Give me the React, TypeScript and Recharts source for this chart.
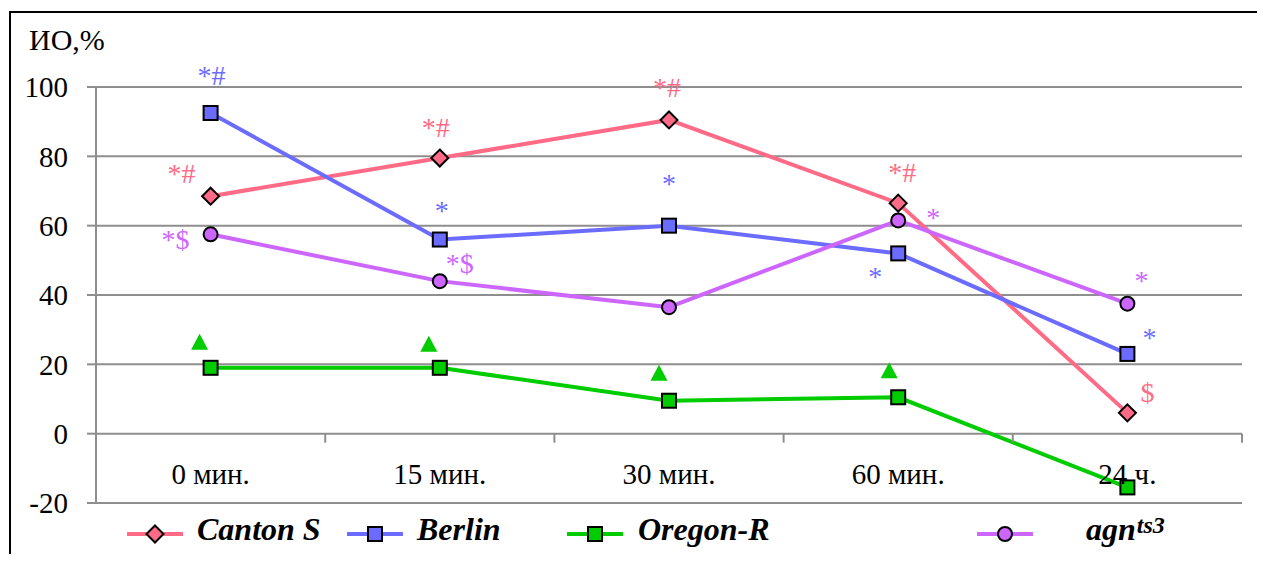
import React from "react";
import { LineChart, Line, XAxis, YAxis, CartesianGrid, LabelList } from "recharts";

const categories = ["0 мин.", "15 мин.", "30 мин.", "60 мин.", "24 ч."];
const cantonS = [68.5, 79.5, 90.5, 66.5, 6];
const berlin = [92.5, 56, 60, 52, 23];
const oregonR = [19, 19, 9.5, 10.5, -15.5];
const agnTs3 = [57.5, 44, 36.5, 61.5, 37.5];
const yTicks = [-20, 0, 20, 40, 60, 80, 100];

// significance marks shown next to points
const cantonNotes = ["*#", "*#", "*#", "*#", "$"];
const berlinNotes = ["*#", "*", "*", "*", "*"];
const oregonNotes = ["▲", "▲", "▲", "▲", ""];
const agnNotes = ["*$", "*$", "", "*", "*"];

// where each mark sits relative to its point (px)
const cantonNoteOffsets = [[-29, -23], [-4, -31], [-2, -32], [4, -31], [20, -20]];
const berlinNoteOffsets = [[1, -38], [2, -29], [0, -42], [-23, 23], [22, -16]];
const oregonNoteOffsets = [[-11, -26], [-11, -24], [-10, -28], [-9, -27], [0, 0]];
const agnNoteOffsets = [[-35, 5], [20, -18], [0, 0], [35, -3], [14, -23]];

const W = 1265;
const H = 562;
const PLOT_LEFT = 96;
const PLOT_RIGHT = 1242;
const PLOT_TOP = 87;
const PLOT_BOTTOM = 503;
const Y_MIN = -20;
const Y_MAX = 100;
const Y_AXIS_W = 80;
const X_AXIS_H = 30;
const BAND_HALF = (PLOT_RIGHT - PLOT_LEFT) / categories.length / 2;
const ZERO_FROM_BOTTOM = ((PLOT_BOTTOM - PLOT_TOP) * (0 - Y_MIN)) / (Y_MAX - Y_MIN);

const SERIF = "Liberation Serif";
const GRID = "#8e8e8e";

const PINK = "#ff6b86";
const BLUE = "#6b6bff";
const GREEN = "#00cc00";
const VIOLET = "#cc66ff";

const data = categories.map((cat, i) => ({
  cat,
  canton: cantonS[i],
  berlin: berlin[i],
  oregon: oregonR[i],
  agn: agnTs3[i],
  cantonNote: cantonNotes[i],
  berlinNote: berlinNotes[i],
  oregonNote: oregonNotes[i],
  agnNote: agnNotes[i],
}));

type Shape = "diamond" | "square" | "circle";

function marker(shape: Shape, cx: number, cy: number, fill: string, key?: any) {
  if (shape === "diamond") {
    const r = 8.5;
    return (
      <polygon
        key={key}
        points={`${cx},${cy - r} ${cx + r},${cy} ${cx},${cy + r} ${cx - r},${cy}`}
        fill={fill}
        stroke="#000"
        strokeWidth={2}
      />
    );
  }
  if (shape === "square") {
    return (
      <rect key={key} x={cx - 7} y={cy - 7} width={14} height={14} fill={fill} stroke="#000" strokeWidth={2} />
    );
  }
  return <circle key={key} cx={cx} cy={cy} r={7} fill={fill} stroke="#000" strokeWidth={2} />;
}

const makeDot = (shape: Shape, fill: string) => (props: any) => {
  const { cx, cy, index } = props;
  if (cx == null || cy == null) return <g key={index} />;
  return marker(shape, cx, cy, fill, index);
};

const makeNote = (color: string, offsets: number[][]) => (props: any) => {
  const { x, y, value, index } = props;
  if (!value || x == null || y == null) return null;
  const [dx, dy] = offsets[index] || [0, 0];
  if (value === "▲") {
    const cx = x + dx;
    const cy = y + dy;
    return (
      <polygon
        points={`${cx},${cy - 8} ${cx + 8.5},${cy + 8} ${cx - 8.5},${cy + 8}`}
        fill={color}
      />
    );
  }
  return (
    <text
      x={x + dx}
      y={y + dy}
      textAnchor="middle"
      dominantBaseline="central"
      fill={color}
      style={{ fontSize: 28, fontFamily: SERIF }}
    >
      {value}
    </text>
  );
};

const CategoryTick = (props: any) => {
  const { x, y, payload } = props;
  const zeroY = y - ZERO_FROM_BOTTOM;
  return (
    <g>
      <line x1={x + BAND_HALF} x2={x + BAND_HALF} y1={zeroY} y2={zeroY + 9} stroke={GRID} strokeWidth={2} />
      <text x={x} y={y - 19} textAnchor="middle" fill="#000" style={{ fontSize: 29, fontFamily: SERIF }}>
        {payload.value}
      </text>
    </g>
  );
};

const legendItems = [
  { name: "Canton S", color: PINK, shape: "diamond" as Shape, lineX: 128, textX: 197 },
  { name: "Berlin", color: BLUE, shape: "square" as Shape, lineX: 348, textX: 417 },
  { name: "Oregon-R", color: GREEN, shape: "square" as Shape, lineX: 568, textX: 638 },
  { name: "agn", sup: "ts3", color: VIOLET, shape: "circle" as Shape, lineX: 978, textX: 1086 },
];

export default function App() {
  return (
    <div
      style={{
        position: "relative",
        width: W,
        height: H,
        margin: -8,
        background: "#fff",
        overflow: "hidden",
        fontFamily: SERIF,
      }}
    >
      <div
        style={{
          position: "absolute",
          left: 9,
          top: 11,
          right: 0,
          bottom: 0,
          borderTop: "2px solid #000",
          borderLeft: "2px solid #000",
        }}
      />
      <div
        style={{
          position: "absolute",
          left: 29,
          top: 25,
          fontSize: 30,
          lineHeight: "30px",
          color: "#000",
          fontFamily: SERIF,
        }}
      >
        ИО,%
      </div>
      <div style={{ position: "absolute", left: 0, top: 0 }}>
        <LineChart
          width={W}
          height={H}
          data={data}
          style={{ fontFamily: SERIF }}
          margin={{
            top: PLOT_TOP,
            right: W - PLOT_RIGHT,
            bottom: H - PLOT_BOTTOM - X_AXIS_H,
            left: PLOT_LEFT - Y_AXIS_W,
          }}
        >
          <CartesianGrid vertical={false} stroke={GRID} strokeWidth={2} />
          <XAxis
            dataKey="cat"
            height={X_AXIS_H}
            axisLine={false}
            tickLine={false}
            tickSize={0}
            tickMargin={0}
            padding={{ left: BAND_HALF, right: BAND_HALF }}
            tick={<CategoryTick />}
            interval={0}
          />
          <YAxis
            width={Y_AXIS_W}
            domain={[Y_MIN, Y_MAX]}
            ticks={yTicks}
            interval={0}
            axisLine={{ stroke: GRID, strokeWidth: 2 }}
            tickLine={{ stroke: GRID, strokeWidth: 2 }}
            tickSize={9}
            tickMargin={19}
            tick={{ fill: "#000", fontSize: 29, fontFamily: SERIF }}
          />
          <Line
            dataKey="canton"
            stroke={PINK}
            strokeWidth={4}
            dot={makeDot("diamond", PINK)}
            activeDot={false}
            isAnimationActive={false}
          >
            <LabelList dataKey="cantonNote" content={makeNote(PINK, cantonNoteOffsets)} />
          </Line>
          <Line
            dataKey="berlin"
            stroke={BLUE}
            strokeWidth={4}
            dot={makeDot("square", BLUE)}
            activeDot={false}
            isAnimationActive={false}
          >
            <LabelList dataKey="berlinNote" content={makeNote(BLUE, berlinNoteOffsets)} />
          </Line>
          <Line
            dataKey="oregon"
            stroke={GREEN}
            strokeWidth={4}
            dot={makeDot("square", GREEN)}
            activeDot={false}
            isAnimationActive={false}
          >
            <LabelList dataKey="oregonNote" content={makeNote(GREEN, oregonNoteOffsets)} />
          </Line>
          <Line
            dataKey="agn"
            stroke={VIOLET}
            strokeWidth={4}
            dot={makeDot("circle", VIOLET)}
            activeDot={false}
            isAnimationActive={false}
          >
            <LabelList dataKey="agnNote" content={makeNote(VIOLET, agnNoteOffsets)} />
          </Line>
        </LineChart>
      </div>
      {legendItems.map((item) => (
        <React.Fragment key={item.name}>
          <svg
            width={56}
            height={20}
            style={{ position: "absolute", left: item.lineX - 1, top: 524 }}
          >
            <line x1={1} x2={55} y1={10} y2={10} stroke={item.color} strokeWidth={4} strokeLinecap="round" />
            {marker(item.shape, 28, 10, item.color)}
          </svg>
          <div
            style={{
              position: "absolute",
              left: item.textX,
              top: 513,
              fontSize: 32,
              lineHeight: "32px",
              fontWeight: "bold",
              fontStyle: "italic",
              color: "#000",
              whiteSpace: "nowrap",
              fontFamily: SERIF,
            }}
          >
            {item.name}
            {item.sup && (
              <span style={{ fontSize: 24, verticalAlign: "top", position: "relative", top: -4, marginLeft: 1 }}>
                {item.sup}
              </span>
            )}
          </div>
        </React.Fragment>
      ))}
    </div>
  );
}
